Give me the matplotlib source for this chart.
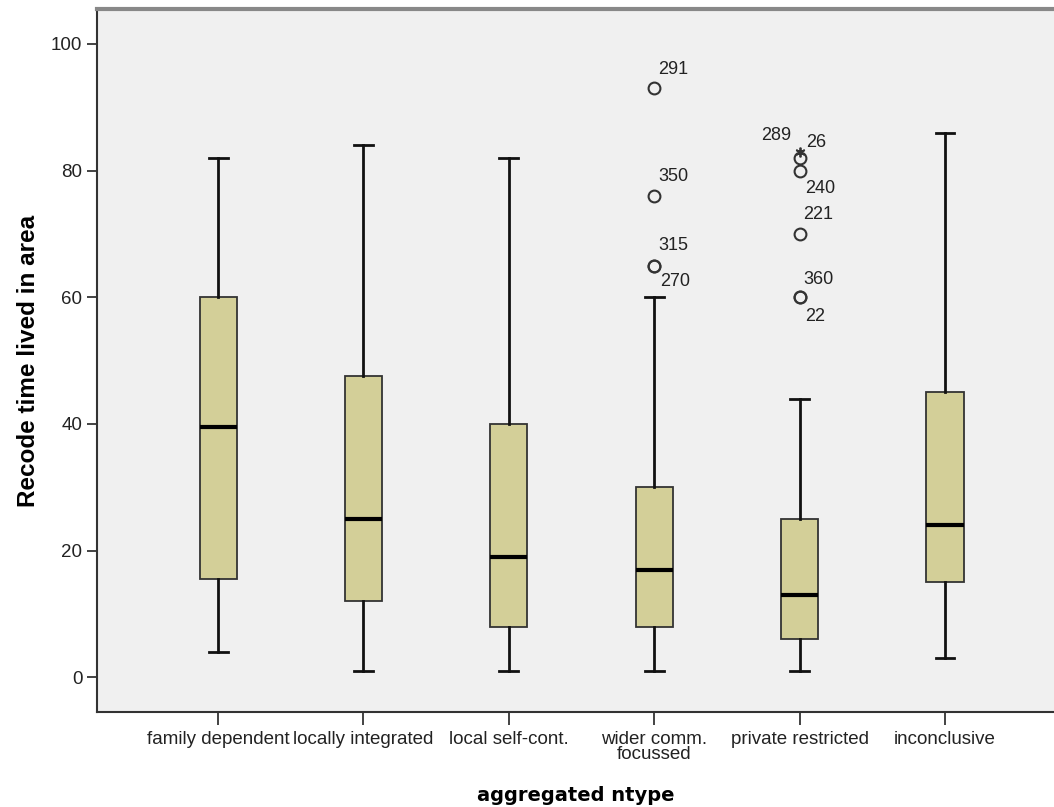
import numpy as np
import matplotlib
matplotlib.use("Agg")
import matplotlib.pyplot as plt

# box summary per category
categories = ["family dependent", "locally integrated", "local self-cont.",
              "wider comm.\nfocussed", "private restricted", "inconclusive"]
whis_lo = [4, 1, 1, 1, 1, 3]
q1 = [15.5, 12, 8, 8, 6, 15]
median = [39.5, 25, 19, 17, 13, 24]
q3 = [60, 47.5, 40, 30, 25, 45]
whis_hi = [82, 84, 82, 60, 44, 86]

# outliers (circle) and extremes (star), with case labels
out_cat = [3, 3, 3, 3, 4, 4, 4, 4, 4]
out_val = [93, 76, 65, 65, 82, 80, 70, 60, 60]
out_lab = ["291", "350", "315", "270", "289", "240", "221", "360", "22"]
ext_cat = [4]
ext_val = [83]
ext_lab = ["26"]

# label offsets in pixels (dx, dy)
out_off = [(4, 19), (4, 19), (4, 20), (6, -16), (-38, 22), (6, -18), (4, 19), (4, 18), (6, -19)]
ext_off = [(7, 9)]

plt.rcParams['font.family'] = ['Liberation Sans', 'DejaVu Sans']

fig = plt.figure(figsize=(10.54, 8.07), dpi=100)
ax = fig.add_axes([97 / 1054, (807 - 712) / 807, 1 - 97 / 1054, (712 - 9) / 807])
ax.set_facecolor('#F0F0F0')

x = np.arange(len(categories))
stats = []
for i in range(len(categories)):
    fl = [v for c, v in zip(out_cat, out_val) if c == i]
    stats.append(dict(whislo=whis_lo[i], q1=q1[i], med=median[i], q3=q3[i],
                      whishi=whis_hi[i], fliers=fl))

ax.bxp(stats, positions=x, widths=0.255, patch_artist=True,
       boxprops=dict(facecolor='#D3CF98', edgecolor='#333333', linewidth=1.3),
       medianprops=dict(color='black', linewidth=3),
       whiskerprops=dict(color='#111111', linewidth=2),
       capprops=dict(color='#111111', linewidth=2),
       capwidths=0.13,
       flierprops=dict(marker='o', markerfacecolor='none', markeredgecolor='#333333',
                       markersize=8.5, markeredgewidth=1.5))

ax.plot(ext_cat, ext_val, linestyle='none', marker=(6, 2, 0), color='#333333',
        markersize=7, markeredgewidth=1.3)

for c, v, lab, off in zip(out_cat, out_val, out_lab, out_off):
    ax.annotate(lab, (c, v), xytext=off, textcoords='offset pixels',
                ha='left', va='center', fontsize=13, color='#222222')
for c, v, lab, off in zip(ext_cat, ext_val, ext_lab, ext_off):
    ax.annotate(lab, (c, v), xytext=off, textcoords='offset pixels',
                ha='left', va='center', fontsize=13, color='#222222')

ax.set_xlim(-0.833, 5.75)
ax.set_ylim(-5.5, 105.5)
ax.set_yticks([0, 20, 40, 60, 80, 100])
ax.set_xticks(x)
ax.set_xticklabels(categories, fontsize=13.5, linespacing=0.85)
ax.tick_params(axis='y', labelsize=13.5, length=7, width=1.2, colors='#222222')
ax.tick_params(axis='x', length=9, width=1.2, colors='#222222', pad=5)

for s in ['left', 'bottom', 'top']:
    ax.spines[s].set_linewidth(1.5)
    ax.spines[s].set_color('#333333')
ax.spines['top'].set_color('#888888')
ax.spines['top'].set_linewidth(3)
ax.spines['right'].set_visible(False)

ax.set_ylabel('Recode time lived in area', fontsize=17.5, fontweight='bold', labelpad=8)
ax.set_xlabel('aggregated ntype', fontsize=14, fontweight='bold', labelpad=16,
              family='DejaVu Sans')

fig.savefig('out.png', dpi=100)
